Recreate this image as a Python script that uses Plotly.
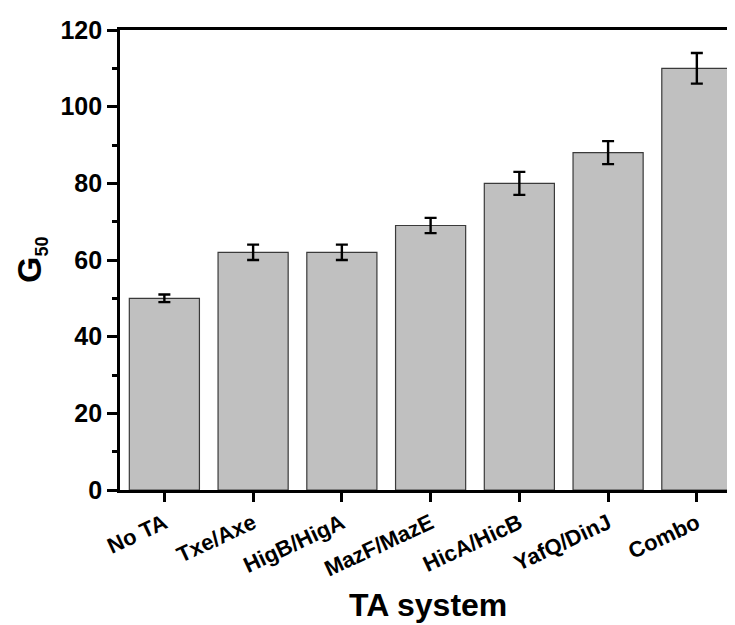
import plotly.graph_objects as go

categories = ["No TA", "Txe/Axe", "HigB/HigA", "MazF/MazE", "HicA/HicB", "YafQ/DinJ", "Combo"]
g50 = [50, 62, 62, 69, 80, 88, 110]
g50_err = [1, 2, 2, 2, 3, 3, 4]
y_ticks = [0, 20, 40, 60, 80, 100, 120]

FONT = "Liberation Sans, Arial, sans-serif"

fig = go.Figure()
fig.add_trace(go.Bar(
    x=list(range(len(categories))),
    y=g50,
    width=0.79,
    marker=dict(color="#c0c0c0", line=dict(color="#3a3a3a", width=1.2)),
    error_y=dict(type="data", array=g50_err, visible=True, color="black", thickness=2.4, width=6),
))

# page body has an 8px margin, so the figure is sized/margined to compensate
fig.update_layout(
    width=727, height=617,
    margin=dict(l=112, r=0, t=22, b=135),
    plot_bgcolor="white", paper_bgcolor="white",
    showlegend=False,
    font=dict(family=FONT, color="black"),
    xaxis=dict(
        range=[-0.5, 6.43],
        tickmode="array", tickvals=list(range(len(categories))), ticktext=categories,
        tickangle=-25,
        tickfont=dict(family=FONT, size=22, color="black", weight="bold"),
        showline=True, linecolor="black", linewidth=2.8, mirror=True,
        ticks="outside", ticklen=9, tickwidth=2.5, tickcolor="black",
        showgrid=False, zeroline=False,
    ),
    yaxis=dict(
        range=[0, 120],
        tickmode="array", tickvals=y_ticks,
        tickfont=dict(family=FONT, size=25, color="black", weight="bold"),
        showline=True, linecolor="black", linewidth=2.8,
        ticks="outside", ticklen=10, tickwidth=2.5, tickcolor="black",
        minor=dict(ticks="outside", ticklen=5, tickwidth=2.5, tickcolor="black", dtick=10, tick0=0),
        showgrid=False, zeroline=False,
    ),
    annotations=[
        dict(text="<b>G<sub><span style='font-size:18px'>50</span></sub></b>", xref="paper", yref="paper",
             x=0, y=0.5, xanchor="center", yanchor="middle", xshift=-89, textangle=-90,
             showarrow=False, font=dict(family=FONT, size=34, color="black")),
        dict(text="<b>TA system</b>", xref="paper", yref="paper", x=0.5, y=0,
             xanchor="center", yanchor="middle", yshift=-115,
             showarrow=False, font=dict(family=FONT, size=32, color="black")),
    ],
)

fig.write_html("out.html")
